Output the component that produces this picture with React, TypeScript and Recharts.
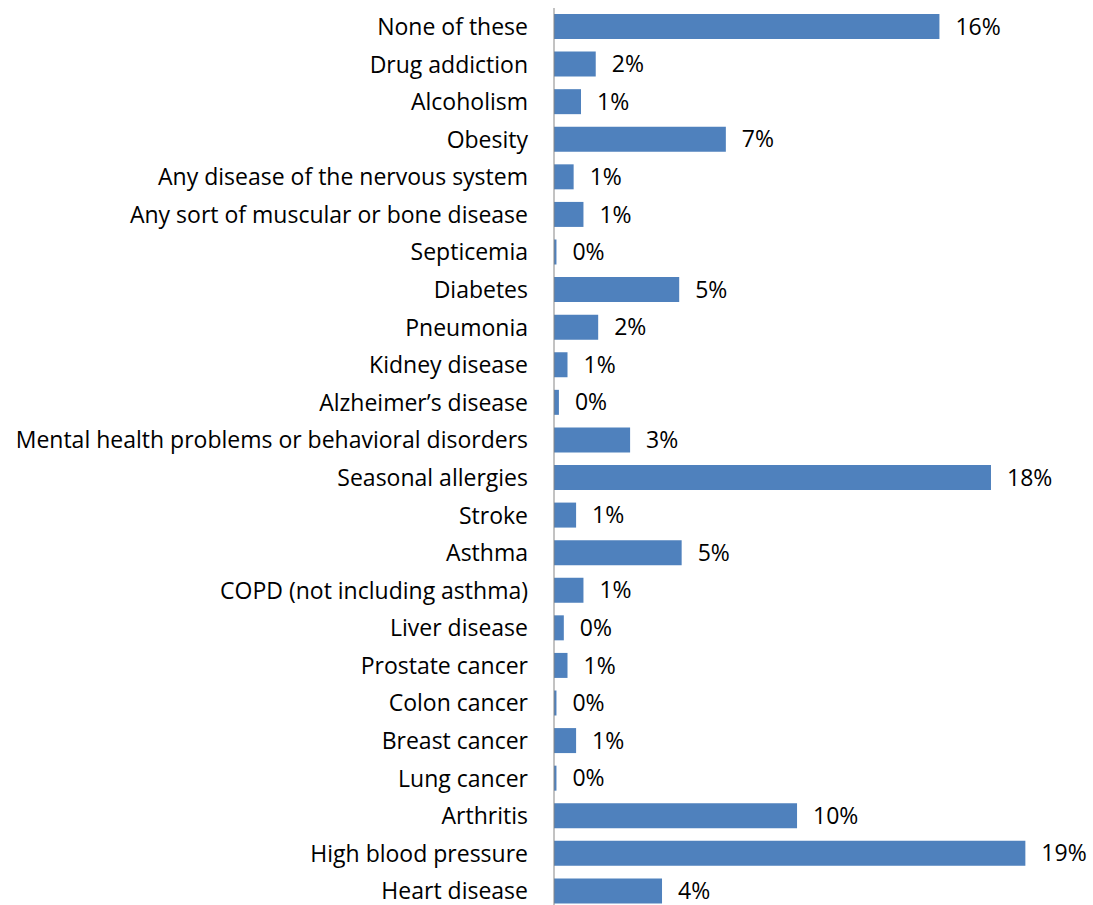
import { BarChart, Bar, XAxis, YAxis, LabelList } from "recharts"

// conditions, top to bottom as shown
const conditions = [
  "None of these",
  "Drug addiction",
  "Alcoholism",
  "Obesity",
  "Any disease of the nervous system",
  "Any sort of muscular or bone disease",
  "Septicemia",
  "Diabetes",
  "Pneumonia",
  "Kidney disease",
  "Alzheimer\u2019s disease",
  "Mental health problems or behavioral disorders",
  "Seasonal allergies",
  "Stroke",
  "Asthma",
  "COPD (not including asthma)",
  "Liver disease",
  "Prostate cancer",
  "Colon cancer",
  "Breast cancer",
  "Lung cancer",
  "Arthritis",
  "High blood pressure",
  "Heart disease",
]

// percent of respondents
const shares = [
  15.7, 1.7, 1.1, 7.0, 0.8, 1.2, 0.1, 5.1, 1.8, 0.55, 0.2, 3.1, 17.8, 0.9, 5.2,
  1.2, 0.4, 0.55, 0.1, 0.9, 0.1, 9.9, 19.2, 4.4,
]

const data = conditions.map((name, i) => ({ name, value: shares[i] }))

const font = "'Open Sans', sans-serif"

export default function App() {
  return (
    <div style={{ position: "absolute", left: 0, top: 0, width: 1093, height: 905, overflow: "hidden", background: "#fff" }}>
      <BarChart
        width={1093}
        height={910}
        data={data}
        layout="vertical"
        margin={{ top: 8, right: 48, bottom: 0, left: 0 }}
        style={{ fontFamily: font }}
      >
        <XAxis type="number" domain={[0, 20]} hide />
        <YAxis
          type="category"
          dataKey="name"
          width={554}
          interval={0}
          tickLine={false}
          tickSize={0}
          tickMargin={26}
          axisLine={{ stroke: "#868686" }}
          tick={{ fill: "#000", fontSize: 23, fontFamily: font }}
        />
        <Bar dataKey="value" fill="#4F81BD" barSize={25} isAnimationActive={false}>
          <LabelList
            dataKey="value"
            position="right"
            offset={16}
            formatter={(v: any) => `${Math.round(Number(v))}%`}
            style={{ fill: "#000", fontSize: 23, fontFamily: font }}
          />
        </Bar>
      </BarChart>
    </div>
  )
}
